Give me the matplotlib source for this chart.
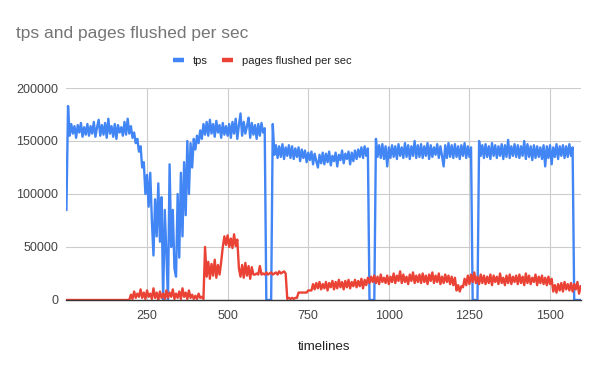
import numpy as np
import matplotlib
matplotlib.use("Agg")
import matplotlib.pyplot as plt
from matplotlib.lines import Line2D

plt.rcParams['font.family'] = ['Liberation Sans', 'DejaVu Sans']

# timelines sampled every 5 units (0 .. 1595)
timelines = list(range(0, 1600, 5))

# tps values (thousands), one row per 100 timelines
tps_k = [
    85, 183, 155, 166, 157, 164, 153, 165, 158, 167, 154, 163, 156, 166, 155, 164, 157, 168, 154, 163,
    170, 155, 165, 156, 167, 153, 171, 157, 164, 154, 166, 152, 165, 158, 163, 155, 168, 156, 171, 157,
    164, 153, 158, 148, 152, 140, 145, 125, 130, 100, 118, 88, 120, 75, 42, 95, 60, 110, 55, 97,
    0, 85, 45, 0, 128, 50, 85, 30, 22, 100, 40, 120, 60, 130, 80, 150, 100, 148, 125, 152,
    142, 155, 148, 160, 152, 166, 156, 168, 155, 170, 157, 166, 154, 169, 158, 165, 153, 167, 156, 164,
    155, 166, 153, 168, 157, 171, 152, 165, 176, 155, 168, 157, 164, 172, 153, 167, 156, 165, 152, 166,
    155, 167, 158, 162, 0, 0, 0, 0, 166, 137, 146, 134, 145, 135, 147, 133, 144, 136, 146, 134,
    145, 133, 143, 135, 144, 131, 142, 134, 141, 130, 139, 132, 140, 128, 138, 131, 125, 137, 129, 139,
    128, 138, 130, 140, 127, 136, 131, 139, 126, 137, 132, 141, 129, 138, 133, 140, 128, 139, 131, 141,
    133, 142, 135, 144, 134, 145, 136, 143, 0, 0, 0, 0, 152, 135, 146, 134, 147, 133, 145, 126,
    144, 134, 146, 135, 145, 133, 147, 136, 144, 134, 148, 135, 146, 133, 145, 136, 150, 134, 146, 135,
    147, 134, 145, 136, 148, 133, 146, 135, 144, 137, 147, 134, 145, 136, 126, 146, 134, 148, 135, 146,
    134, 147, 135, 145, 133, 146, 136, 148, 134, 145, 135, 144, 0, 0, 0, 0, 150, 136, 146, 134,
    147, 135, 145, 133, 148, 136, 146, 134, 145, 136, 147, 133, 146, 135, 151, 134, 145, 136, 147, 135,
    146, 134, 145, 136, 150, 133, 147, 135, 145, 132, 146, 134, 145, 135, 144, 133, 146, 126, 145, 134,
    146, 128, 144, 135, 147, 133, 145, 136, 146, 134, 145, 135, 147, 136, 144, 0, 0, 0, 0, 0,
]

# pages flushed per sec (thousands)
pages_k = [
    0, 0, 0, 0, 0, 0, 0, 0, 0, 0, 0, 0, 0, 0, 0, 0, 0, 0, 0, 0,
    0, 0, 0, 0, 0, 0, 0, 0, 0, 0, 0, 0, 0, 0, 0, 0, 0, 0, 0, 0,
    5, 1, 8, 2, 6, 3, 10, 2, 7, 1, 9, 3, 6, 1, 11, 2, 7, 0, 8, 2,
    6, 1, 9, 2, 7, 3, 10, 1, 6, 2, 8, 1, 11, 3, 7, 1, 9, 2, 5, 1,
    4, 1, 6, 2, 3, 1, 50, 22, 36, 20, 34, 23, 38, 21, 33, 24, 36, 50, 60, 52,
    61, 50, 58, 49, 62, 51, 57, 30, 22, 33, 21, 35, 23, 32, 20, 31, 24, 24, 25, 24,
    32, 24, 25, 24, 26, 24, 25, 26, 24, 25, 26, 24, 27, 25, 26, 27, 25, 1, 2, 1,
    2, 1, 2, 2, 7, 7, 7, 7, 7, 7, 9, 9, 9, 15, 10, 16, 11, 17, 10, 15,
    11, 17, 9, 16, 12, 18, 10, 17, 11, 19, 12, 17, 10, 18, 12, 19, 11, 17, 13, 19,
    12, 18, 13, 20, 11, 19, 14, 21, 16, 22, 17, 23, 16, 22, 15, 24, 17, 21, 16, 23,
    15, 22, 17, 25, 16, 23, 18, 27, 16, 24, 17, 22, 15, 24, 18, 26, 16, 23, 17, 24,
    16, 25, 17, 23, 15, 24, 18, 26, 16, 23, 17, 25, 15, 22, 16, 24, 17, 23, 15, 22,
    14, 21, 9, 14, 8, 13, 12, 20, 14, 23, 15, 24, 17, 26, 16, 22, 15, 24, 16, 23,
    15, 22, 16, 24, 14, 23, 17, 22, 15, 25, 16, 21, 14, 23, 16, 24, 15, 22, 17, 23,
    15, 24, 16, 22, 14, 25, 16, 23, 15, 21, 17, 24, 14, 22, 16, 23, 15, 21, 14, 22,
    15, 20, 8, 14, 7, 15, 9, 16, 8, 17, 10, 15, 9, 16, 8, 15, 10, 17, 6, 13,
]

x_ticks = [250, 500, 750, 1000, 1250, 1500]
y_ticks = [0, 50000, 100000, 150000, 200000]
series_names = ["tps", "pages flushed per sec"]
colors = ["#4285F4", "#EA4335"]

tps = np.array(tps_k) * 1000
pages = np.array(pages_k) * 1000

fig = plt.figure(figsize=(6, 3.71), dpi=100)
ax = fig.add_axes([0.1107, 0.1914, 0.8576, 0.5714])

ax.plot(timelines, tps, color=colors[0], lw=1.7, zorder=3)
ax.plot(timelines, pages, color=colors[1], lw=1.7, zorder=3)

ax.set_xlim(0, 1596)
ax.set_ylim(0, 200000)
ax.set_xticks(x_ticks)
ax.set_yticks(y_ticks)
ax.set_xticklabels([str(v) for v in x_ticks])
ax.set_yticklabels([str(v) for v in y_ticks])
ax.grid(True, color="#cccccc", lw=0.8, zorder=0)
for s in ["top", "right", "left"]:
    ax.spines[s].set_visible(False)
ax.spines["bottom"].set_color("#333333")
ax.spines["bottom"].set_linewidth(1.0)
ax.spines["bottom"].set_zorder(4)
ax.tick_params(axis="both", length=0, labelsize=9, colors="#444444", pad=6)
ax.tick_params(axis="x", pad=7)
ax.set_xlabel("timelines", fontsize=9.5, color="#222222", labelpad=14)

fig.text(0.027, 0.91, "tps and pages flushed per sec", fontsize=12.5, color="#757575",
         ha="left", va="center")

handles = [Line2D([], [], color=c, lw=3.2, solid_capstyle="butt") for c in colors]
fig.legend(handles, series_names, loc="center", bbox_to_anchor=(0.437, 0.835), ncol=2,
           frameon=False, fontsize=8, handlelength=1.0, handletextpad=0.8, columnspacing=1.3,
           labelcolor="#222222")

fig.savefig("out.png", dpi=100)
